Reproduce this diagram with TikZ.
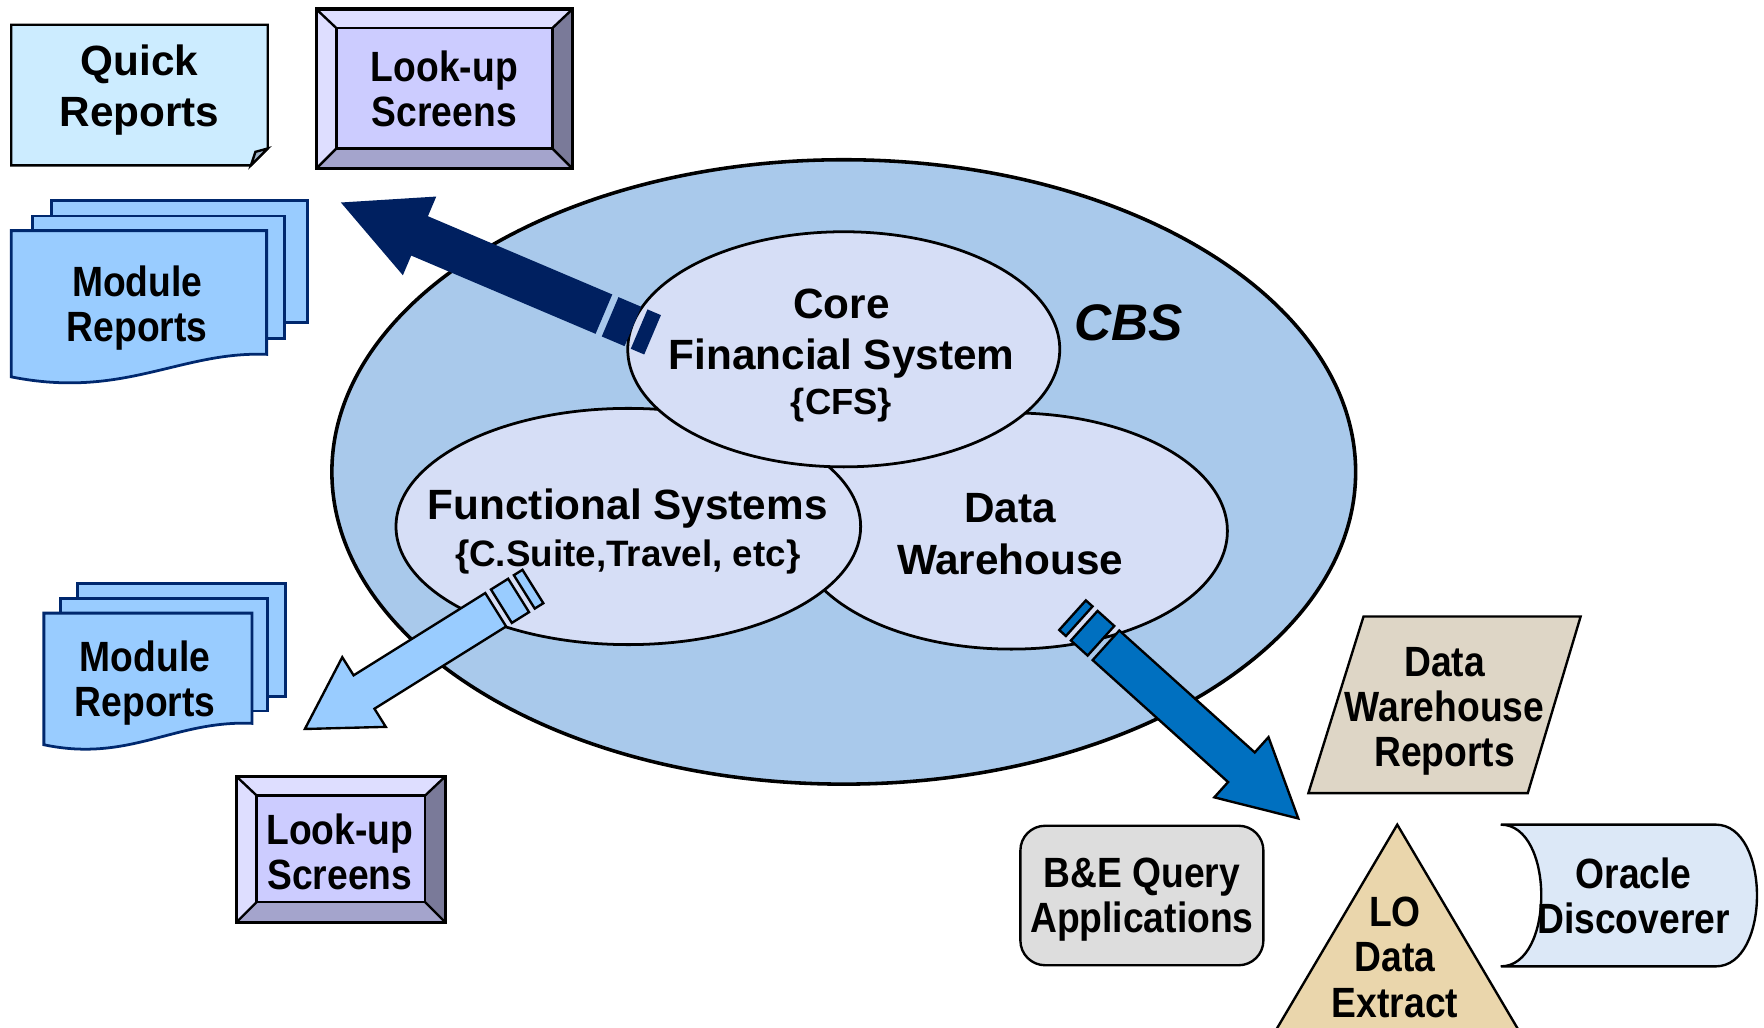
\documentclass[tikz,border=0pt]{standalone}
\usepackage{fontspec}
\setmainfont{Liberation Sans}
\newfontfamily\narrowsans{Liberation Sans}[FakeStretch=0.88]
\usepackage{tikz}
\usetikzlibrary{shapes.geometric, positioning}
\definecolor{cbsblue}{RGB}{169,201,235}
\definecolor{sysfill}{RGB}{214,222,246}
\definecolor{navyarrow}{RGB}{0,32,96}
\definecolor{skyarrow}{RGB}{153,204,255}
\definecolor{midarrow}{RGB}{0,112,192}
\definecolor{quickfill}{RGB}{204,236,255}
\definecolor{foldfill}{RGB}{160,180,200}
\definecolor{modfill}{RGB}{153,204,255}
\definecolor{modline}{RGB}{0,40,110}
\definecolor{keyface}{RGB}{204,204,255}
\definecolor{keylight}{RGB}{222,222,255}
\definecolor{keymid}{RGB}{164,164,204}
\definecolor{keydark}{RGB}{122,122,153}
\definecolor{queryfill}{RGB}{221,221,221}
\definecolor{dwrfill}{RGB}{222,214,198}
\definecolor{extractfill}{RGB}{234,214,172}
\definecolor{oraclefill}{RGB}{220,232,247}
\tikzstyle{boxtext} = [align=center, inner sep=0pt, font=\fontsize{10.7}{11.4}\selectfont\bfseries]
\tikzstyle{narrowtext} = [align=center, inner sep=0pt, font=\narrowsans\fontsize{10.7}{11.4}\selectfont\bfseries]
\tikzstyle{sysnode} = [ellipse, draw=black, line width=0.7pt, fill=sysfill, inner sep=0pt]
\tikzstyle{edgeline} = [draw=black, line width=0.6pt]
\tikzstyle{sheet} = [draw=modline, line width=0.7pt, fill=modfill]
% block arrow with a broken tail: style, tip, angle, head length, head half width,
% shaft half width, shaft end, block length, end piece length
\newcommand{\tailarrow}[9]{%
  \begin{scope}[shift={(#2)}, rotate=#3]
    \path[#1] (0,0) -- (#4,#5) -- (#4,#6) -- (#7,#6) -- (#7,-#6) -- (#4,-#6) -- (#4,-#5) -- cycle;
    \path[#1] (#7+0.06,#6) -- (#7+0.06+#8,#6) -- (#7+0.06+#8,-#6) -- (#7+0.06,-#6) -- cycle;
    \path[#1] (#7+0.12+#8,#6) -- (#7+0.12+#8+#9,#6) -- (#7+0.12+#8+#9,-#6) -- (#7+0.12+#8,-#6) -- cycle;
  \end{scope}}
% bevelled key: top-left corner, width, height
\newcommand{\keybox}[3]{%
  \begin{scope}[shift={#1}]
    \fill[keylight] (0,0) -- (#2,0) -- (#2-0.18,-0.17) -- (0.18,-0.17) -- (0.18,-#3+0.18) -- (0,-#3) -- cycle;
    \fill[keymid] (0,-#3) -- (0.18,-#3+0.18) -- (#2-0.18,-#3+0.18) -- (#2,-#3) -- cycle;
    \fill[keydark] (#2,0) -- (#2,-#3) -- (#2-0.18,-#3+0.18) -- (#2-0.18,-0.17) -- cycle;
    \draw[edgeline, fill=keyface] (0.18,-0.17) rectangle (#2-0.18,-#3+0.18);
    \draw[edgeline] (0,0) -- (0.18,-0.17) (#2,0) -- (#2-0.18,-0.17) (0,-#3) -- (0.18,-#3+0.18) (#2,-#3) -- (#2-0.18,-#3+0.18);
    \draw[edgeline, line width=0.8pt] (0,0) rectangle (#2,-#3);
  \end{scope}}

\begin{document}
\begin{tikzpicture}
\useasboundingbox (0,0) rectangle (15.68,-9.13);
\clip (0,0) rectangle (15.68,-9.13);

% outputs on the left
\draw[edgeline, fill=quickfill] (0.10,-0.22) -- (2.38,-0.22) -- (2.38,-1.32) -- (2.23,-1.47) -- (0.10,-1.47) -- cycle;
\draw[edgeline, fill=foldfill] (2.38,-1.32) -- (2.27,-1.35) -- (2.23,-1.47) -- cycle;
\node[boxtext] (quickrep) at (1.24,-0.80) {Quick\\[1.7pt]Reports};

\keybox{(2.81,-0.08)}{2.28}{1.42}
\node[narrowtext] (lookuptop) at (3.95,-0.79) {Look-up\\Screens};

\draw[sheet] (0.46,-1.78) rectangle (2.73,-2.87);
\draw[sheet] (0.29,-1.92) rectangle (2.53,-3.01);
\draw[sheet] (0.10,-2.05) -- (2.37,-2.05) -- (2.37,-3.15) .. controls (1.60,-3.12) and (1.10,-3.55) .. (0.10,-3.35) -- cycle;
\node[narrowtext] (modreptop) at (1.22,-2.74) {Module\\Reports};

\draw[sheet] (0.69,-5.19) rectangle (2.54,-6.19);
\draw[sheet] (0.54,-5.32) rectangle (2.38,-6.32);
\draw[sheet] (0.39,-5.45) -- (2.24,-5.45) -- (2.24,-6.43) .. controls (1.55,-6.40) and (1.15,-6.78) .. (0.39,-6.62) -- cycle;
\node[narrowtext] (modrepbot) at (1.29,-6.07) {Module\\Reports};

\keybox{(2.10,-6.90)}{1.86}{1.30}
\node[narrowtext] (lookupbot) at (3.02,-7.57) {Look-up\\Screens};

% the CBS and its systems
\node[ellipse, draw=black, line width=0.9pt, fill=cbsblue, minimum width=9.10cm, minimum height=5.55cm] (cbs) at (7.50,-4.195) {};
\node[sysnode, minimum width=3.84cm, minimum height=2.10cm] (dwh) at (8.99,-4.72) {};
\node[sysnode, minimum width=4.13cm, minimum height=2.10cm] (funcsys) at (5.585,-4.68) {};
\node[sysnode, minimum width=3.84cm, minimum height=2.09cm] (cfs) at (7.50,-3.105) {};
\node[boxtext] (dwhtext) at (8.98,-4.75) {Data\\[1.7pt]Warehouse};
\node[boxtext] (functext) at (5.58,-4.725) {Functional Systems\\[0.4pt]{\fontsize{9.3}{11}\selectfont\{C.Suite,Travel, etc\}}};
\node[boxtext] (cfstext) at (7.48,-3.16) {Core\\[1.4pt]Financial System\\{\fontsize{9.2}{11}\selectfont\{CFS\}}};
\node[font=\fontsize{13}{15}\selectfont\bfseries\itshape, inner sep=0pt] (cbstext) at (10.03,-2.87) {CBS};

% flows out of the CBS
\coordinate (tipcfs) at (3.03,-1.80);
\coordinate (tipfunc) at (2.71,-6.48);
\coordinate (tipdwh) at (11.54,-7.275);
\tailarrow{fill=navyarrow}{tipcfs}{-23}{0.76}{0.38}{0.19}{2.54}{0.22}{0.13}
\tailarrow{edgeline, fill=skyarrow}{tipfunc}{32}{0.62}{0.365}{0.175}{2.00}{0.18}{0.09}
\tailarrow{edgeline, fill=midarrow}{tipdwh}{138}{0.68}{0.36}{0.177}{2.30}{0.20}{0.08}

% data warehouse outputs
\draw[edgeline, fill=dwrfill] (12.12,-5.48) -- (14.05,-5.48) -- (13.58,-7.05) -- (11.63,-7.05) -- cycle;
\node[narrowtext] (dwhrep) at (12.84,-6.32) {Data\\Warehouse\\Reports};

\node[edgeline, rounded corners=0.22cm, fill=queryfill, minimum width=2.16cm, minimum height=1.24cm, narrowtext] (bequery) at (10.15,-7.96) {};
\node[narrowtext] (bequerytext) at (10.15,-8.00) {B\&E Query\\Applications};

\draw[edgeline, fill=extractfill] (12.42,-7.33) -- (13.76,-9.60) -- (11.08,-9.60) -- cycle;
\node[narrowtext] (loextract) at (12.40,-8.51) {LO\\Data\\Extract};

\draw[edgeline, fill=oraclefill] (13.34,-7.33) -- (15.25,-7.33) .. controls (15.74,-7.33) and (15.74,-8.59) .. (15.25,-8.59) -- (13.34,-8.59) .. controls (13.82,-8.59) and (13.82,-7.33) .. (13.34,-7.33) -- cycle;
\node[narrowtext] (oracle) at (14.52,-7.96) {Oracle\\Discoverer};
\end{tikzpicture}
\end{document}
